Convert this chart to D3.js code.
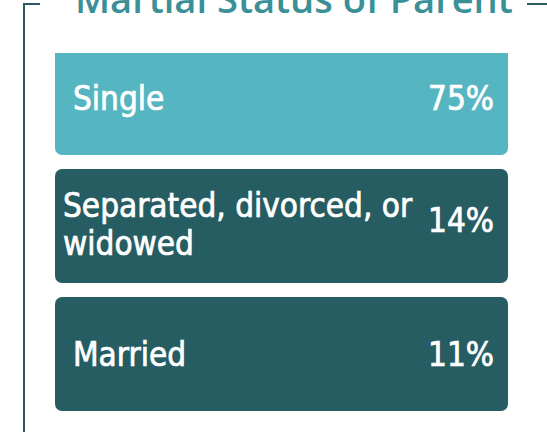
<!DOCTYPE html>
<html>
<head>
<meta charset="utf-8">
<script src="https://cdn.jsdelivr.net/npm/d3@7"></script>
<style>
  html, body { margin: 0; padding: 0; background: #fff; overflow: hidden; }
</style>
</head>
<body>
<div id="plot"></div>
<script>
const title = "Martial Status of Parent";
const categories = ["Single", "Separated, divorced, or widowed", "Married"];
const shares = [75, 14, 11];
const barColors = ["#55b5c1", "#265d62", "#265d62"];

const width = 547;
const height = 432;
const labelFont = "'DejaVu Sans Condensed', 'DejaVu Sans', sans-serif";

const svg = d3.select("#plot")
  .append("svg")
  .attr("width", width)
  .attr("height", height);

// frame, like a fieldset with the title sitting in its top edge
const frameColor = "#2b5a5e";
svg.append("line")
  .attr("x1", 24).attr("x2", 24).attr("y1", 3).attr("y2", height)
  .attr("stroke", frameColor).attr("stroke-width", 2);
svg.append("line")
  .attr("x1", 23).attr("x2", 40).attr("y1", 4).attr("y2", 4)
  .attr("stroke", frameColor).attr("stroke-width", 2);
svg.append("line")
  .attr("x1", 527).attr("x2", width).attr("y1", 4).attr("y2", 4)
  .attr("stroke", frameColor).attr("stroke-width", 2);

// title, fitted to its width in the picture (its top is cut off, as in the source)
const titleText = svg.append("text")
  .attr("x", 75)
  .attr("y", 13)
  .attr("fill", "#3a9096")
  .attr("font-family", "'Open Sans', sans-serif")
  .attr("font-weight", 600)
  .attr("font-size", 40)
  .text(title);
const tLen = titleText.node().getComputedTextLength();
titleText.attr("font-size", 40 * 438 / tLen);

const xScale = d3.scaleLinear().domain([0, 1]).range([55, 508]);
const yScale = d3.scaleBand()
  .domain(categories)
  .range([41, 411])
  .paddingInner(14 / 128)
  .paddingOuter(0);

svg.append("clipPath")
  .attr("id", "clip")
  .append("rect")
  .attr("x", 0).attr("y", 53)
  .attr("width", width).attr("height", height - 53);

const rows = svg.append("g")
  .attr("clip-path", "url(#clip)")
  .selectAll("g")
  .data(categories.map((c, i) => ({ label: c, value: shares[i], color: barColors[i] })))
  .join("g");

rows.append("rect")
  .attr("x", xScale(0))
  .attr("y", d => yScale(d.label))
  .attr("width", xScale(1) - xScale(0))
  .attr("height", yScale.bandwidth())
  .attr("rx", 7)
  .attr("fill", d => d.color);

const fontSize = 33;
const lineHeight = 38;
const capHalf = 12;

function styleText(sel) {
  return sel
    .attr("font-family", labelFont)
    .attr("font-size", fontSize)
    .attr("fill", "#fff")
    .attr("stroke", "#fff")
    .attr("stroke-width", 0.7);
}

// simple word wrap for the long label
function wrap(label, maxWidth) {
  const probe = styleText(svg.append("text"));
  const words = label.split(" ");
  const lines = [];
  let line = [];
  words.forEach(w => {
    line.push(w);
    probe.text(line.join(" "));
    if (probe.node().getComputedTextLength() > maxWidth && line.length > 1) {
      line.pop();
      lines.push(line.join(" "));
      line = [w];
    }
  });
  lines.push(line.join(" "));
  probe.remove();
  return lines;
}

rows.each(function (d) {
  const g = d3.select(this);
  const cy = yScale(d.label) + yScale.bandwidth() / 2;
  const lines = wrap(d.label, 360);
  const multi = lines.length > 1;
  const firstBase = cy + capHalf - (lines.length - 1) * lineHeight / 2 - (multi ? 2 : 0);
  const left = xScale(0) + (multi ? 8 : 18);

  styleText(g.append("text"))
    .selectAll("tspan")
    .data(lines)
    .join("tspan")
    .attr("x", left)
    .attr("y", (l, i) => firstBase + i * lineHeight)
    .text(l => l);

  styleText(g.append("text"))
    .attr("x", xScale(1) - 14)
    .attr("y", cy + capHalf - (multi ? 6 : 0))
    .attr("text-anchor", "end")
    .text(d.value + "%");
});
</script>
</body>
</html>
